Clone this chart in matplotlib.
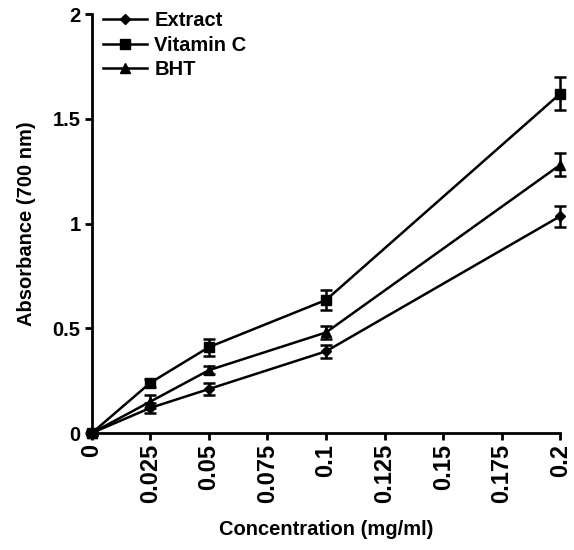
import numpy as np
import matplotlib.pyplot as plt

plt.rcParams['font.family'] = ['Liberation Sans', 'DejaVu Sans']
plt.rcParams['font.weight'] = 'bold'
plt.rcParams['axes.labelweight'] = 'bold'

conc = [0, 0.025, 0.05, 0.1, 0.2]
extract = [0, 0.12, 0.21, 0.39, 1.035]
extract_err = [0.01, 0.025, 0.03, 0.03, 0.05]
vitc = [0, 0.24, 0.41, 0.635, 1.62]
vitc_err = [0.01, 0.02, 0.04, 0.05, 0.08]
bht = [0, 0.15, 0.30, 0.48, 1.28]
bht_err = [0.01, 0.03, 0.02, 0.03, 0.055]

xticks = [0, 0.025, 0.05, 0.075, 0.1, 0.125, 0.15, 0.175, 0.2]
xlabels = ['0', '0.025', '0.05', '0.075', '0.1', '0.125', '0.15', '0.175', '0.2']
yticks = [0, 0.5, 1, 1.5, 2]
ylabels = ['0', '0.5', '1', '1.5', '2']

fig = plt.figure(figsize=(5.74, 5.50), dpi=100)
ax = fig.add_axes([0.160, 0.2127, 0.816, 0.7618])

series = [('Extract', extract, extract_err, 'D', 5),
          ('Vitamin C', vitc, vitc_err, 's', 7),
          ('BHT', bht, bht_err, '^', 7)]
for name, y, err, m, ms in series:
    ax.errorbar(conc, y, yerr=err, color='black', marker=m, markersize=ms,
                linewidth=1.8, elinewidth=1.8, capsize=4, capthick=1.8,
                label=name, clip_on=False)

ax.set_xlim(0, 0.2)
ax.set_ylim(0, 2)
ax.tick_params(direction='out', width=2, length=5, pad=3)
ax.tick_params(axis='x', labelsize=17)
ax.tick_params(axis='y', labelsize=14.5)
ax.set_xticks(xticks)
ax.set_xticklabels(xlabels, rotation=90)
ax.set_yticks(yticks)
ax.set_yticklabels(ylabels)

for s in ['top', 'right']:
    ax.spines[s].set_visible(False)
for s in ['left', 'bottom']:
    ax.spines[s].set_linewidth(2)

ax.set_xlabel('Concentration (mg/ml)', fontsize=14.5, fontweight='bold', labelpad=12)
ax.set_ylabel('Absorbance (700 nm)', fontsize=14.5, fontweight='bold', labelpad=12)

handles, labels = ax.get_legend_handles_labels()
handles = [h[0] for h in handles]
ax.legend(handles, labels, loc='upper left', bbox_to_anchor=(-0.015, 1.05),
          frameon=False, fontsize=14.5, handlelength=2.2, handletextpad=0.35,
          labelspacing=0.28)

plt.savefig('out.png', dpi=100)
